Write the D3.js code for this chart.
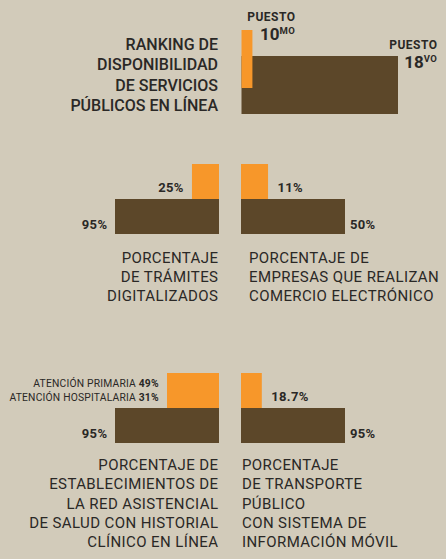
<!DOCTYPE html>
<html><head><meta charset="utf-8">
<script src="https://cdn.jsdelivr.net/npm/d3@7"></script>
<style>html,body{margin:0;padding:0;background:#d2cbba;}svg{display:block;font-family:Roboto,"Noto Sans",sans-serif;}</style>
</head><body>
<script>
// ---- data ----
const rankTitle = ["RANKING DE", "DISPONIBILIDAD", "DE SERVICIOS", "PÚBLICOS EN LÍNEA"];
const rankPositions = [10, 18];          // orange, brown
const rankSuffix = ["MO", "VO"];
const rankWord = "PUESTO";

const panelTitles = [
  ["PORCENTAJE", "DE TRÁMITES", "DIGITALIZADOS"],
  ["PORCENTAJE DE", "EMPRESAS QUE REALIZAN", "COMERCIO ELECTRÓNICO"],
  ["PORCENTAJE DE", "ESTABLECIMIENTOS DE", "LA RED ASISTENCIAL", "DE SALUD CON HISTORIAL", "CLÍNICO EN LÍNEA"],
  ["PORCENTAJE", "DE TRANSPORTE", "PÚBLICO", "CON SISTEMA DE", "INFORMACIÓN MÓVIL"]
];
const panelSide = ["left", "right", "left", "right"];
const panelRow = [0, 0, 1, 1];
const brownLabels = ["95%", "50%", "95%", "95%"];
const orangeLabels = [
  [["", "25%"]],
  [["", "11%"]],
  [["ATENCIÓN PRIMARIA ", "49%"], ["ATENCIÓN HOSPITALARIA ", "31%"]],
  [["", "18.7%"]]
];
// orange bar length as share of the (full) brown bar, as drawn in the picture
const orangeShare = [26, 26, 50, 20];
const brownShare = [100, 100, 100, 100];

// ---- drawing ----
const W = 446, H = 559;
const C = {bg:"#d2cbba", brown:"#5c4729", orange:"#f7972a", text:"#2a2826"};
const svg = d3.select("body").append("svg").attr("width", W).attr("height", H);
svg.append("rect").attr("width", W).attr("height", H).attr("fill", C.bg);

// Ranking block
const rx = d3.scaleLinear().domain([9.4, 18]).range([0, 156.5]);
const rankX0 = 241.5;
const rankBars = [{v: rankPositions[1], y: 56, c: C.brown}, {v: rankPositions[0], y: 30, c: C.orange}];
svg.selectAll("rect.rank").data(rankBars).join("rect").attr("class", "rank")
  .attr("x", rankX0).attr("y", d => d.y).attr("width", d => rx(d.v)).attr("height", 58).attr("fill", d => d.c);

svg.append("text").attr("text-anchor", "end").attr("fill", C.text)
  .style("font-size", "16px").style("font-weight", 500)
  .selectAll("tspan").data(rankTitle).join("tspan")
  .attr("x", 218).attr("y", (d, i) => 50 + i * 20.4).text(d => d);

const rankLab = [
  {right: 295, y1: 20.5, y2: 39.5, i: 0},
  {right: 437, y1: 48.5, y2: 67.5, i: 1}
];
rankLab.forEach(r => {
  svg.append("text").attr("x", r.right + 0.5).attr("y", r.y1).attr("text-anchor", "end")
    .attr("fill", C.text).style("font-size", "12px").style("letter-spacing", "0.5px").style("font-weight", 700).text(rankWord);
  const t = svg.append("text").attr("x", r.right).attr("y", r.y2).attr("text-anchor", "end")
    .attr("fill", C.text).style("font-weight", 700);
  t.append("tspan").style("font-size", "17px").text(rankPositions[r.i]);
  t.append("tspan").style("font-size", "9.5px").style("letter-spacing", "0.3px").attr("dy", -5.5).text(rankSuffix[r.i]);
});

// Comparison panels
const px = d3.scaleLinear().domain([0, 100]).range([0, 104]);
const rowTop = [164, 373];       // top of orange bar
const barH = 35;
const innerLeft = 219, innerRight = 241;
const titleX = {left: 218.4, right: [249, 242]};

panelTitles.forEach((lines, k) => {
  const side = panelSide[k], row = panelRow[k];
  const oy = rowTop[row], by = oy + barH, bottom = by + barH;
  const bw = px(brownShare[k]), ow = px(orangeShare[k]);
  const g = svg.append("g");
  const bars = [
    {x: side === "left" ? innerLeft - bw : innerRight, y: by, w: bw, c: C.brown},
    {x: side === "left" ? innerLeft - ow : innerRight, y: oy, w: ow, c: C.orange}
  ];
  g.selectAll("rect").data(bars).join("rect")
    .attr("x", d => d.x).attr("y", d => d.y).attr("width", d => d.w).attr("height", barH).attr("fill", d => d.c);

  // brown label
  g.append("text").attr("fill", C.text).style("font-size", "13px").style("font-weight", 700)
    .style("letter-spacing", "0.3px")
    .attr("x", side === "left" ? innerLeft - bw - 7.7 : innerRight + bw + 5)
    .attr("y", bottom - 5.5)
    .attr("text-anchor", side === "left" ? "end" : "start")
    .text(brownLabels[k]);

  // orange label(s)
  const ol = orangeLabels[k];
  ol.forEach((pair, j) => {
    const small = pair[0] !== "";
    const t = g.append("text").attr("fill", C.text)
      .attr("x", side === "left" ? innerLeft - ow - 8.2 : innerRight + ow + 9.5)
      .attr("y", small ? oy + 14 + j * 13.6 : by - 7)
      .attr("text-anchor", side === "left" ? "end" : "start")
      .style("letter-spacing", small ? "0.2px" : "0.3px")
      .style("font-size", small ? "10.3px" : "13px");
    if (small) t.append("tspan").style("font-weight", 400).text(pair[0]);
    t.append("tspan").style("font-weight", 700).text(pair[1]);
  });

  // title
  g.append("text").attr("fill", C.text).style("font-size", "15px").style("font-weight", 400)
    .style("letter-spacing", "0.4px")
    .attr("text-anchor", side === "left" ? "end" : "start")
    .selectAll("tspan").data(lines).join("tspan")
    .attr("x", side === "left" ? titleX.left : titleX.right[row])
    .attr("y", (d, i) => bottom + (row === 0 ? 28.7 : 27) + i * 19.3)
    .text(d => d);
});
</script>
</body></html>
